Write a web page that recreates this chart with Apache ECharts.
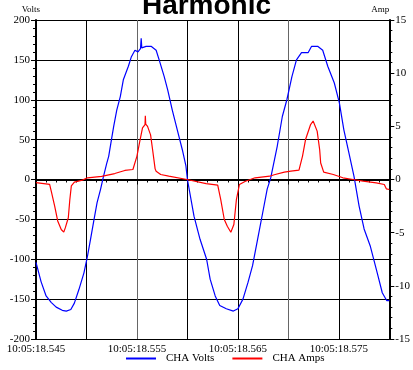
<!DOCTYPE html>
<html><head><meta charset="utf-8">
<script src="https://cdn.jsdelivr.net/npm/echarts@6/dist/echarts.min.js"></script>
<style>html,body{margin:0;padding:0;background:#fff}#c{width:413px;height:370px}</style>
</head><body><div id="c"></div>
<script>
const titleText = 'Harmonic';
const xTickLabels = ['10:05:18.545','10:05:18.555','10:05:18.565','10:05:18.575'];
const seriesNames = ['CHA Volts','CHA Amps'];
// time in ms after 10:05:18.545
const voltsT = [0,0.5,1.0,1.5,2.0,2.6,3.0,3.45,3.8,4.25,4.75,5.1,5.4,5.75,6.05,6.4,6.65,7.0,7.2,7.5,7.7,8.0,8.35,8.65,9.15,9.45,9.8,10.1,10.35,10.42,10.48,10.9,11.4,11.9,12.2,12.7,13.05,13.5,14.0,14.5,14.85,15.0,15.65,16.25,16.9,17.25,17.75,18.2,18.85,19.55,20.0,20.5,21.0,21.45,21.95,22.45,22.9,23.25,23.9,24.4,24.85,25.35,25.8,26.3,26.95,27.3,27.9,28.4,28.9,29.55,30.05,30.5,31.0,31.5,32.0,32.5,33.1,33.8,34.3,34.75,35.0];
const voltsV = [-104,-128,-146,-154,-160,-164,-165,-163,-155,-138,-117,-96,-75,-50,-29,-12,2,20,29,52,67,87,104,125,142,154,162,160,164,177,165,167,167,162,150,129,112,87,62,37,17,0,-46,-75,-100,-125,-146,-158,-162,-165,-162,-150,-129,-108,-75,-42,-12,2,42,79,100,129,150,159,159,167,167,162,142,121,96,62,33,4,-33,-62,-83,-117,-142,-152,-152];
const ampsT = [0,1.35,1.55,1.85,2.15,2.5,2.75,2.9,3.2,3.35,3.5,3.8,4.6,5.1,6.5,7.8,8.8,9.6,10.0,10.25,10.55,10.8,10.83,10.87,11.05,11.35,11.55,11.8,11.9,12.35,13.15,14.95,16.85,18.0,18.3,18.65,18.95,19.3,19.6,19.85,20.15,20.75,21.7,23.15,23.6,24.6,25.25,26.05,26.4,26.7,27.2,27.45,27.85,28.1,28.2,28.5,29.45,30.4,31.4,32.4,33.7,34.5,34.7,35.0];
const ampsA = [-0.3,-0.45,-1.25,-2.5,-3.9,-4.7,-4.95,-4.55,-3.6,-1.9,-0.6,-0.25,-0.06,0.16,0.3,0.56,0.85,0.94,2.2,3.45,4.86,5.17,6.0,5.2,5.0,4.2,2.8,1.0,0.78,0.47,0.31,0,-0.38,-0.53,-1.9,-3.76,-4.4,-4.96,-4.23,-1.9,-0.47,-0.16,0.16,0.31,0.45,0.69,0.78,0.88,2.2,3.76,5.17,5.5,4.55,2.8,1.55,0.69,0.47,0.16,0,-0.16,-0.31,-0.47,-0.88,-0.94];

const font = 'Liberation Serif';
const chart = echarts.init(document.getElementById('c'));
chart.setOption({
  animation:false,
  title:{text:titleText,left:'center',top:-13,textStyle:{fontFamily:'Liberation Sans',fontSize:28,fontWeight:'bold',color:'#000'}},
  grid:{left:36,right:17,top:20,bottom:31},
  legend:{bottom:1,left:121,icon:'rect',itemWidth:30,itemHeight:2,itemGap:18,
    textStyle:{fontFamily:font,fontSize:11,color:'#000',padding:[0,0,0,5]},data:seriesNames},
  xAxis:{type:'value',min:0,max:35,interval:5,
    axisLine:{lineStyle:{color:'#000',width:2}},
    axisTick:{length:5,lineStyle:{color:'#000'}},
    minorTick:{show:true,splitNumber:5,length:3,lineStyle:{color:'#000'}},
    splitLine:{show:true,lineStyle:{color:['#000','#000','#666'],width:1}},
    axisLabel:{fontFamily:font,fontSize:11,color:'#000',margin:5,
      formatter:v=>(v%10===0 && v/10<xTickLabels.length)?xTickLabels[v/10]:''}},
  yAxis:[
    {type:'value',min:-200,max:200,interval:50,name:'Volts',nameGap:6,
     nameTextStyle:{fontFamily:font,fontSize:9,color:'#000',align:'right',padding:[0,-4,0,0]},
     axisLine:{show:true,lineStyle:{color:'#000',width:2}},
     axisTick:{show:true,length:5,lineStyle:{color:'#000'}},
     minorTick:{show:true,splitNumber:5,length:3,lineStyle:{color:'#000'}},
     splitLine:{show:true,lineStyle:{color:'#000',width:1}},
     axisLabel:{fontFamily:font,fontSize:11,color:'#000',margin:6}},
    {type:'value',min:-15,max:15,interval:5,name:'Amp',nameGap:6,position:'right',
     nameTextStyle:{fontFamily:font,fontSize:9,color:'#000',align:'right',padding:[0,0,0,0]},
     axisLine:{show:true,lineStyle:{color:'#000',width:2}},
     axisTick:{show:true,length:5,lineStyle:{color:'#000'}},
     minorTick:{show:true,splitNumber:5,length:3,lineStyle:{color:'#000'}},
     splitLine:{show:false},
     axisLabel:{fontFamily:font,fontSize:11,color:'#000',margin:6}}
  ],
  series:[
    {name:seriesNames[0],type:'line',yAxisIndex:0,showSymbol:false,color:'#0000ff',
     lineStyle:{width:1.2,color:'#0000ff'},data:voltsT.map((t,i)=>[t,voltsV[i]])},
    {name:seriesNames[1],type:'line',yAxisIndex:1,showSymbol:false,color:'#ff0000',
     lineStyle:{width:1.2,color:'#ff0000'},data:ampsT.map((t,i)=>[t,ampsA[i]])}
  ]
});
</script></body></html>
